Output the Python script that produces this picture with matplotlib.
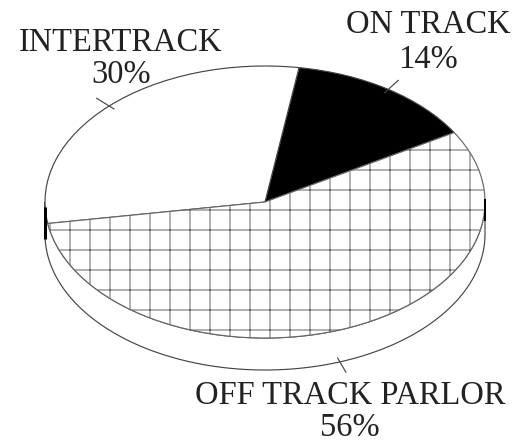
import numpy as np
import matplotlib
matplotlib.use('Agg')
import matplotlib.pyplot as plt

# ---- data ----
categories = ['ON TRACK', 'INTERTRACK', 'OFF TRACK PARLOR']
shares = [14, 30, 56]
start_angle = 30.7

# ---- layout (pixels) ----
W, H, DPI = 519, 445, 120
cx, cy = 265, 202          # centre of the top face
rx, ry = 220, 136          # semi-axes of the top face
depth_px = 32              # thickness of the disc

# label anchor positions (pixel x, baseline y of name, baseline y of percent)
label_pos = {
    'ON TRACK': (428, 33, 68),
    'INTERTRACK': (121, 51, 83),
    'OFF TRACK PARLOR': (350, 404, 436),
}

plt.rcParams['hatch.linewidth'] = 0.6
plt.rcParams['font.family'] = ['Liberation Serif', 'DejaVu Serif']

fig = plt.figure(figsize=(W / DPI, H / DPI), dpi=DPI)
ax = fig.add_axes([0, 0, 1, 1])

depth = depth_px / ry

# side wall of the disc
t = np.linspace(np.pi, 2 * np.pi, 300)
xs = np.concatenate([np.cos(t), np.cos(t[::-1])])
ys = np.concatenate([np.sin(t), np.sin(t[::-1]) - depth])
ax.fill(xs, ys, facecolor='white', edgecolor='#444444', lw=0.7, zorder=0.5)

# top face
wedges, _ = ax.pie(shares, startangle=start_angle, counterclock=True,
                   colors=['black', 'white', 'white'], radius=1, center=(0, 0),
                   wedgeprops=dict(linewidth=0.7, edgecolor='#444444'), frame=False)
wedges[2].set_hatch('+')
wedges[2].set_edgecolor('#666666')
for w in wedges:
    w.set_zorder(1)

# dark edges of the side wall
ax.plot([-1, -1], [-0.04, -depth - 0.04], color='black', lw=1.8,
        solid_capstyle='butt', zorder=3)
ax.plot([1, 1], [0.02, -depth * 0.6], color='black', lw=1.2,
        solid_capstyle='butt', zorder=3)

# leader ticks at the middle of each slice
bounds = start_angle + 360 * np.cumsum([0] + shares) / np.sum(shares)
mids = np.radians((bounds[:-1] + bounds[1:]) / 2)
for m in mids:
    off = -depth if np.sin(m) < 0 else 0
    r = np.array([0.97, 1.08])
    ax.plot(r * np.cos(m), r * np.sin(m) + off, color='#444444', lw=0.7, zorder=3)

ax.set_xlim(-cx / rx, (W - cx) / rx)
ax.set_ylim((cy - H) / ry, cy / ry)
ax.set_aspect('auto')
ax.axis('off')

# labels
for name, val in zip(categories, shares):
    x, y1, y2 = label_pos[name]
    fig.text(x / W, 1 - y1 / H, name, ha='center', va='baseline',
             fontsize=19.5, color='#222222')
    fig.text(x / W, 1 - y2 / H, f'{val}%', ha='center', va='baseline',
             fontsize=19.5, color='#222222')

fig.savefig('out.png', dpi=DPI)
